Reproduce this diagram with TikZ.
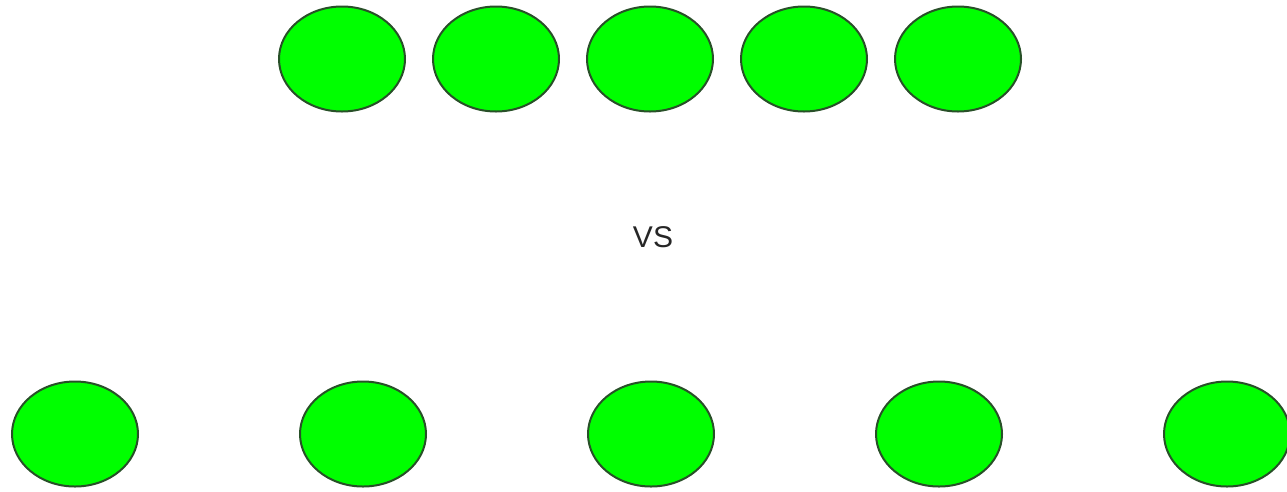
\documentclass[tikz,border=0pt]{standalone}
\usepackage{fontspec}
\setsansfont{Liberation Sans}
\usetikzlibrary{shapes.geometric, positioning}

\tikzset{
	ball/.style={ellipse, draw={rgb,255:red,40;green,80;blue,40}, line width=2pt,
		fill={rgb,255:red,0;green,255;blue,0}, minimum width=126pt, minimum height=105pt, inner sep=0pt}
}

\begin{document}
\begin{tikzpicture}[x=1pt, y=-1pt]
		
		\useasboundingbox (0,0) rectangle (1287,491);
		
		% packed together
		\node[ball] (t1) at (342,59) {};
		\node[ball, right=26pt of t1] (t2) {};
		\node[ball, right=26pt of t2] (t3) {};
		\node[ball, right=26pt of t3] (t4) {};
		\node[ball, right=26pt of t4] (t5) {};
		
		\node[font=\sffamily\fontsize{30}{30}\selectfont, text=black!85] (vs) at (653,237) {VS};
		
		% spread out
		\node[ball] (b1) at (75,434) {};
		\node[ball, right=160pt of b1] (b2) {};
		\node[ball, right=160pt of b2] (b3) {};
		\node[ball, right=160pt of b3] (b4) {};
		\node[ball, right=160pt of b4] (b5) {};
		
		\end{tikzpicture}
\end{document}
